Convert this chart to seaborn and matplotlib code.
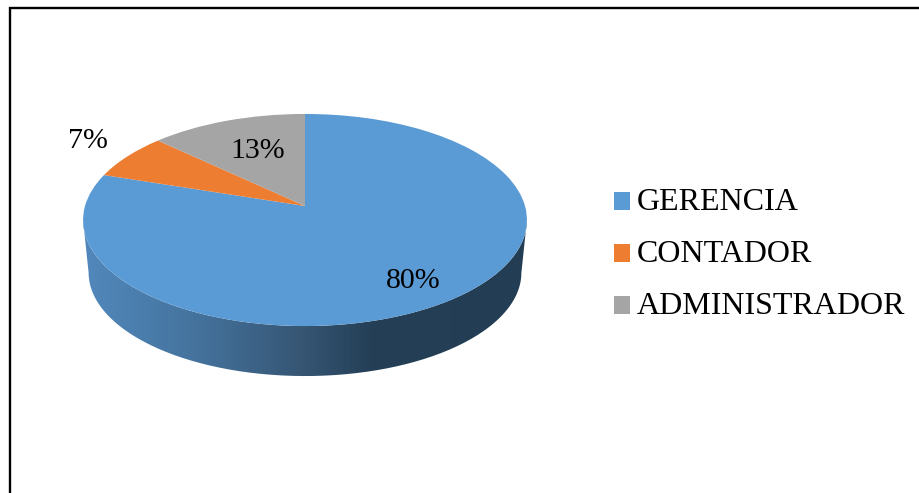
import numpy as np
import matplotlib
matplotlib.use('Agg')
import matplotlib.pyplot as plt
import seaborn as sns
from matplotlib.colors import LinearSegmentedColormap
from matplotlib.patches import PathPatch
from matplotlib.path import Path
from matplotlib.transforms import Transform

categories = ['GERENCIA', 'CONTADOR', 'ADMINISTRADOR']
shares = [80, 7, 13]
share_labels = ['80%', '7%', '13%']
colors = ['#5B9BD5', '#ED7D31', '#A5A5A5']

sns.set_theme(style='white')
plt.rcParams['font.family'] = ['Liberation Serif', 'DejaVu Serif']

# top face geometry in pixels, the tilt makes the apex sit above the ellipse centre
APEX_X, APEX_Y = 305, 206
SCALE_X, SCALE_Y = 220, 104.2
TILT = 0.132
# lower rim is a bit further away
DEPTH_SHRINK, LOWER_APEX_Y = 0.975, 259


def project(x, y, apex_y=APEX_Y, shrink=1.0):
    d = 1 + TILT * y
    return (APEX_X + shrink * SCALE_X * x / d,
            apex_y - shrink * SCALE_Y * y / d)


class TiltTransform(Transform):
    input_dims = 2
    output_dims = 2
    has_inverse = False
    is_separable = False

    def transform_non_affine(self, values):
        values = np.asarray(values)
        px, py = project(values[:, 0], values[:, 1])
        return np.column_stack([px, py])


fig, ax = plt.subplots(figsize=(9.2, 4.93), dpi=100)
fig.subplots_adjust(left=0, right=1, bottom=0, top=1)

# pie top
wedges, _ = ax.pie(shares, colors=sns.color_palette(colors), startangle=90,
                   counterclock=False, wedgeprops={'linewidth': 0})
ax.set_aspect('auto')
for w in wedges:
    w.set_transform(TiltTransform() + ax.transData)
    w.set_zorder(3)

# side wall with horizontal gradient
edge = np.arcsin(TILT)
theta = np.linspace(np.pi + edge, 2 * np.pi - edge, 200)
ux, uy = project(np.cos(theta), np.sin(theta))
lx, ly = project(np.cos(theta), np.sin(theta), LOWER_APEX_Y, DEPTH_SHRINK)
outline = np.vstack([np.column_stack([ux, uy]),
                     np.column_stack([lx, ly])[::-1],
                     [[ux[0], uy[0]]]])
clip = PathPatch(Path(outline), transform=ax.transData, facecolor='none', edgecolor='none')
ax.add_patch(clip)
side_cmap = LinearSegmentedColormap.from_list('side', [
    (0.0, '#5288BC'), (0.10, '#4C80B0'), (0.26, '#44729C'),
    (0.49, '#365674'), (0.65, '#243F56'), (1.0, '#233E54')])
img = ax.imshow(np.linspace(0, 1, 512).reshape(1, -1), cmap=side_cmap, aspect='auto',
                extent=[83, 528, 380, 200], zorder=2)
img.set_clip_path(clip)

ax.set_xlim(0, 920)
ax.set_ylim(493, 0)
ax.axis('off')

# percent labels
for txt, x, y in zip(share_labels, [413, 88, 258], [281, 141, 151]):
    ax.text(x, y, txt, fontsize=21.5, color='black', ha='center', va='center', zorder=5)

# legend
leg = ax.legend(wedges, categories, loc='center left', bbox_to_anchor=(614, 254.5),
                bbox_transform=ax.transData, frameon=False, fontsize=23, labelcolor='black',
                handlelength=0.5, handleheight=0.5, handletextpad=0.22,
                labelspacing=0.72, borderpad=0, borderaxespad=0)
leg.set_zorder(5)
# squares sit a little lower against the text
for h in leg.legend_handles:
    h.set_y(h.get_y() - 1.44)

# page frame, only the left and top edges are visible
ax.plot([10, 10, 920], [493, 8, 8], color='black', lw=1.7, zorder=6, solid_joinstyle='miter')

fig.savefig('out.png', dpi=100)
